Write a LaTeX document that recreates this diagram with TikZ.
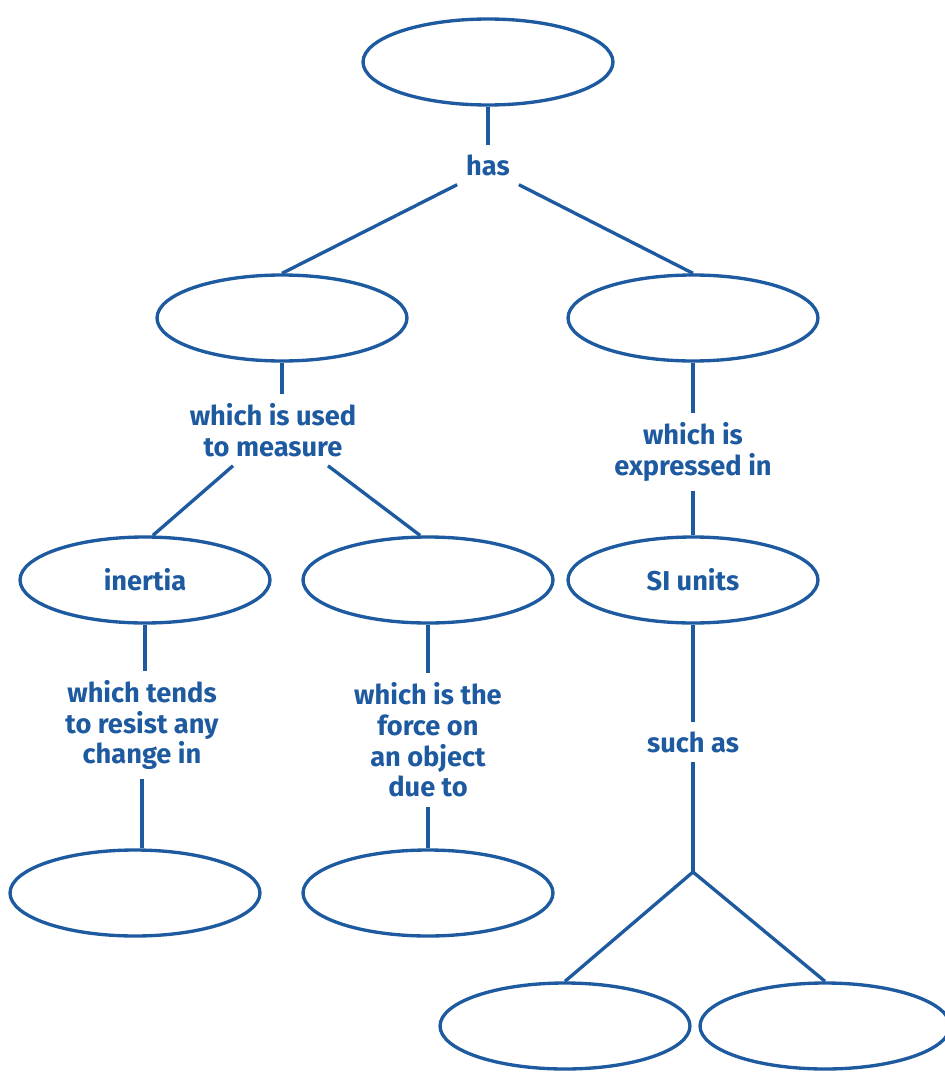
\documentclass[tikz,border=0pt]{standalone}
\usepackage{fontspec}
\setmainfont{Fira Sans}
\usetikzlibrary{shapes.geometric, positioning, calc}
\definecolor{mapblue}{RGB}{30, 90, 160}

\begin{document}
\begin{tikzpicture}[x=0.02cm, y=-0.02cm,
  concept/.style={draw=mapblue, ellipse, line width=1.9pt, minimum width=5cm, minimum height=1.72cm,
    text=mapblue, font=\fontsize{15.5}{17.5}\selectfont\bfseries},
  linkword/.style={text=mapblue, align=center, inner sep=5pt, font=\fontsize{15.5}{17.5}\selectfont\bfseries},
  conn/.style={draw=mapblue, line width=1.9pt}]
  \useasboundingbox (0,0) rectangle (945,1078);

  % concepts
  \node[concept] (topnode) at (488,62) {};
  \node[concept] (meas) at (282,318) {};
  \node[concept] (unit) at (693,318) {};
  \node[concept] (inertia) at (145,580) {inertia};
  \node[concept] (gravity) at (428,580) {};
  \node[concept] (siunits) at (693,580) {SI units};
  \node[concept] (motion) at (135,893) {};
  \node[concept] (cause) at (428,893) {};
  \node[concept] (unitA) at (565,1026) {};
  \node[concept] (unitB) at (825,1026) {};

  % linking words
  \node[linkword] (has) at (488,165) {has};
  \node[linkword] (used) at (273,430) {which is used\\to measure};
  \node[linkword] (expressed) at (693,452) {which is\\expressed in};
  \node[linkword] (tends) at (142,725) {which tends\\to resist any\\change in};
  \node[linkword] (forceon) at (428,740) {which is the\\force on\\an object\\due to};
  \node[linkword] (suchas) at (693,742) {such as};
  \coordinate (split) at (693,872);

  % connectors
  \draw[conn] (topnode) -- (has);
  \draw[conn] (has.south west) -- (meas.north);
  \draw[conn] (has.south east) -- (unit.north);
  \draw[conn] (meas.south) -- (meas.south |- used.north);
  \draw[conn] ([xshift=-0.8cm]used.south) -- (inertia.80);
  \draw[conn] ([xshift=1.1cm]used.south) -- (gravity.100);
  \draw[conn] (unit) -- (expressed);
  \draw[conn] (expressed) -- (siunits);
  \draw[conn] (inertia.south) -- (inertia.south |- tends.north);
  \draw[conn] (tends.south) -- (tends.south |- motion.north);
  \draw[conn] (gravity.south) -- (gravity.south |- forceon.north);
  \draw[conn] (forceon.south) -- (forceon.south |- cause.north);
  \draw[conn] (siunits) -- (suchas);
  \draw[conn] (suchas) -- (split);
  \draw[conn] (split) -- (unitA.north);
  \draw[conn] (split) -- (unitB.north);
\end{tikzpicture}
\end{document}
